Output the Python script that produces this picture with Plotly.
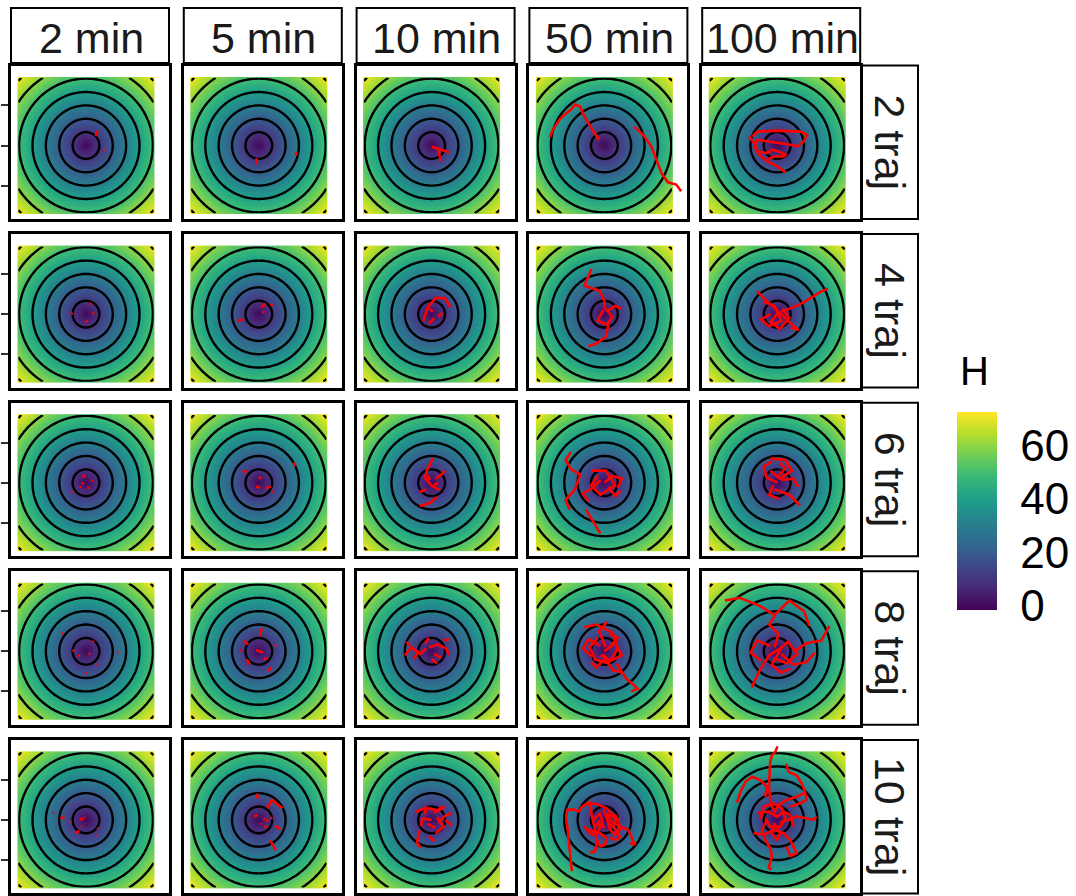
import numpy as np
import plotly.graph_objects as go

# ---------------- data ----------------
time_labels = ["2 min", "5 min", "10 min", "50 min", "100 min"]
traj_labels = ["2 traj", "4 traj", "6 traj", "8 traj", "10 traj"]

grid_x = np.arange(-5.0625, 5.07, 0.125)
grid_y = np.arange(-5.0625, 5.07, 0.125)
contour_start, contour_end, contour_step = 10, 70, 10
H_min, H_max = -1.5, 72.5
H_ticks = [0, 20, 40, 60]
y_ticks = [-3, 0, 3]

# trajectories per panel: list of trajectories, each a list of (x, y)
traj2_m2 = [[(0.72, 0.71), (0.87, 1.08)], [(1.36, -0.28), (1.42, -0.40)]]
traj2_m5 = [[(-0.17, -0.95), (-0.17, -1.40)], [(2.76, -0.50), (2.83, -0.76)]]
traj2_m10 = [[(0.0, -0.1), (0.6, -0.3), (1.3, -0.5)], [(0.5, -0.3), (0.6, -0.9), (0.7, -1.2)]]
traj2_m50 = [[(-4.08, 0.62), (-3.79, 1.29), (-3.29, 2.03), (-2.55, 2.65), (-2.18, 3.07), (-1.81, 2.90),
              (-1.56, 2.28), (-1.19, 1.66), (-0.82, 1.04), (-0.37, 0.42)],
             [(2.23, 1.41), (2.90, 0.79), (3.51, -0.07), (3.89, -1.06), (4.26, -2.05), (4.75, -2.75),
              (5.37, -2.92), (5.74, -3.42)]]
traj2_m100 = [[(-1.86, 0.67), (-1.49, 1.04), (0.0, 1.11), (1.73, 1.04), (2.23, 0.79), (1.98, 0.30),
               (1.49, -0.07), (0.99, 0.05), (0.25, 0.17), (-0.74, 0.30), (-1.49, 0.42), (-1.73, -0.07),
               (-1.49, -0.45), (-0.74, -0.57), (-0.37, -0.32), (0.12, -0.45), (0.62, -0.69), (0.50, -0.82),
               (-0.25, -0.82), (-0.74, -1.06)],
              [(-2.10, 0.67), (-1.73, 0.17), (-1.36, -0.69), (-0.74, -1.19), (0.0, -1.56), (0.62, -2.0)]]

traj4_m2 = [[(-1.0, 0.1), (-1.1, 0.0)], [(0.3, 0.7), (0.35, 0.85)], [(0.5, 0.0), (0.6, 0.1)],
            [(0.0, -0.5), (0.1, -0.6)]]
traj4_m5 = [[(-1.6, -0.5), (-1.2, -0.4)], [(0.2, 0.5), (0.5, 0.8)], [(0.3, 0.2), (0.4, 0.1)],
            [(0.9, 0.6), (1.0, 0.75)]]
traj4_m10 = [[(-0.6, -0.5), (-0.3, 0.5), (0.3, 1.2), (1.0, 1.2), (1.4, 0.5)], [(-0.2, -0.7), (0.2, -0.3)],
             [(0.5, -0.2), (0.8, 0.1)], [(0.1, 0.2), (-0.2, 0.4)]]
traj4_m50 = [[(-0.97, 3.38), (-1.49, 2.12), (-0.37, 1.75), (0.0, 1.0), (0.0, 0.5)],
             [(0.0, 0.5), (0.6, -0.2), (0.2, -0.8), (-0.5, -0.5), (-0.1, 0.3)],
             [(0.3, -0.8), (0.1, -1.7), (-0.6, -2.2), (-1.2, -2.4)],
             [(0.2, 0.2), (0.8, 0.6), (1.3, 0.4)]]
traj4_m100 = [[(-1.5, 1.7), (-0.8, 1.0), (0.0, 0.3), (0.8, -0.5), (1.6, -1.2), (1.0, -1.0)],
              [(0.3, 0.2), (1.2, 0.5), (2.0, 0.9), (2.8, 1.4), (3.3, 1.7), (3.8, 1.9)],
              [(-0.5, 0.0), (-1.2, -0.4), (-0.6, -0.9), (0.3, -0.5), (-0.2, 0.6), (-1.0, 0.9)],
              [(0.4, 0.4), (0.9, -0.3), (0.2, -1.1), (-0.5, -0.6), (0.0, 0.0)]]

traj6_m2 = [[(-0.2, 0.4), (-0.15, 0.6)], [(-0.5, -0.3), (-0.35, -0.35)], [(0.1, -0.4), (0.25, -0.35)],
            [(-1.1, -0.7), (-1.0, -0.75)], [(0.4, 0.1), (0.5, 0.2)], [(-0.3, -0.1), (-0.2, 0.0)]]
traj6_m5 = [[(-1.2, 0.9), (-0.9, 0.8)], [(-0.2, -0.3), (0.1, -0.35)], [(0.5, -0.4), (0.9, -0.3)],
            [(1.0, -0.6), (1.1, -0.7)], [(2.6, 1.5), (2.7, 1.2)], [(0.0, 0.3), (0.2, 0.4)]]
traj6_m10 = [[(0.1, 1.85), (-0.34, 0.95), (-0.49, 0.35), (0.03, -0.25), (0.63, -0.55)],
             [(-0.87, -1.74), (-0.12, -1.52), (0.4, -1.07)],
             [(0.3, 0.3), (0.7, 0.6), (1.0, 0.9)], [(-0.4, -0.5), (-0.9, -0.7)],
             [(0.2, -0.2), (0.5, 0.0)], [(-0.1, 0.2), (-0.3, 0.5)]]
traj6_m50 = [[(-2.5, 2.3), (-2.9, 1.7), (-2.5, 1.0), (-1.8, 0.6), (-2.2, -0.5), (-2.9, -1.3), (-2.6, -2.0)],
             [(-1.0, 0.9), (0.1, 0.9), (0.8, -0.2), (-0.3, -0.9), (-1.0, -0.2), (-0.5, 0.5)],
             [(-1.4, -2.0), (-0.7, -3.1), (-0.3, -3.8)],
             [(0.0, 0.0), (0.6, 0.5), (1.3, 0.3), (1.0, -0.4)],
             [(-0.3, 0.2), (-0.9, -0.4), (-1.6, -0.8), (-1.2, -1.4)],
             [(0.3, -0.3), (0.8, -1.0), (1.2, -0.6)]]
traj6_m100 = [[(-0.5, 1.8), (0.6, 1.7), (1.1, 0.9), (0.2, 0.3), (-0.5, 0.9)],
              [(-0.2, -0.5), (0.9, -0.9), (1.7, -1.7)],
              [(0.0, 0.0), (-0.8, 0.4), (-1.0, 1.2), (-0.4, 1.6)],
              [(0.3, 0.2), (1.2, 0.3), (1.6, -0.3)],
              [(-0.3, -0.2), (-0.6, -0.9), (0.1, -1.2)],
              [(0.1, 0.5), (0.6, 1.1), (0.2, 1.5)]]

traj8_m2 = [[(-1.8, 1.4), (-1.75, 1.25)], [(-1.0, 0.1), (-0.88, 0.0)], [(-0.6, -0.3), (-0.47, -0.35)],
            [(0.2, -0.2), (0.33, -0.2)], [(0.5, 0.8), (0.55, 0.67)], [(2.3, -0.1), (2.43, -0.1)],
            [(0.0, -1.6), (0.05, -1.73)], [(0.8, -1.0), (0.92, -1.0)]]
traj8_m5 = [[(-1.1, 0.8), (-0.8, 0.5)], [(0.2, 1.7), (0.1, 1.1)], [(-0.9, -0.6), (-0.7, -1.0)],
            [(0.7, -1.5), (0.9, -1.2)], [(-0.2, 0.1), (0.3, -0.1)], [(-1.4, 0.0), (-1.3, 0.1)],
            [(1.2, 0.4), (1.3, 0.5)], [(0.4, -0.5), (0.6, -0.6)]]
traj8_m10 = [[(-2.0, -0.3), (-1.5, 0.3), (-0.9, -0.2), (-0.4, 0.2)],
             [(-0.2, 0.3), (0.5, 0.5), (1.1, 0.2), (1.3, -0.3)],
             [(-1.3, -0.6), (-1.0, 0.1)], [(0.2, -0.2), (0.7, -0.5)], [(-0.5, 0.6), (-0.2, 1.0)],
             [(0.9, 0.8), (1.3, 0.9)], [(-1.6, 0.4), (-1.9, 0.7)], [(0.0, -0.6), (0.4, -0.9)]]
traj8_m50 = [[(-1.5, 1.8), (-0.6, 2.0), (0.6, 1.4), (1.0, 0.2), (0.3, -0.9), (-0.7, -0.6), (-1.1, 0.3), (-0.5, 1.0)],
             [(0.9, -0.9), (1.6, -2.0), (2.5, -2.8), (2.0, -3.0)],
             [(0.0, 0.0), (0.8, 0.6), (1.3, -0.3), (0.5, -0.7), (-0.3, -0.3)],
             [(-0.3, 0.4), (-1.2, 0.9), (-1.6, 0.2), (-0.9, -0.4)],
             [(0.3, 0.2), (1.0, 1.0), (0.4, 1.3)],
             [(-0.1, -0.2), (0.6, -1.4), (1.4, -1.6)],
             [(0.2, -0.4), (-0.6, -1.2), (-1.0, -0.8)],
             [(0.1, 0.3), (-0.4, 1.5), (0.2, 2.2)]]
traj8_m100 = [[(-3.9, 3.8), (-2.8, 4.0), (-1.3, 3.4), (-0.2, 2.7), (0.9, 3.8), (2.0, 3.0), (2.4, 1.9)],
              [(3.9, 1.9), (3.3, 0.8), (2.2, 0.6), (1.3, 0.0)],
              [(-1.9, -2.7), (-1.3, -1.4), (-0.6, -0.3), (0.2, 0.2)],
              [(0.0, 0.0), (0.8, 0.7), (1.5, -0.2), (0.7, -0.9), (-0.3, -0.5)],
              [(-0.5, 0.4), (-1.5, 0.8), (-2.0, -0.1), (-1.2, -0.7)],
              [(0.3, -0.2), (1.2, -1.0), (2.2, -0.8), (2.8, -0.1)],
              [(-0.2, 0.3), (0.1, 1.3), (-0.6, 2.0), (-0.2, 2.6)],
              [(0.4, 0.4), (-0.4, -1.0), (0.3, -1.6), (1.0, -1.3)]]

traj10_m2 = [[(-2.48, 0.59), (-2.45, 0.52)], [(-1.11, 1.16), (-1.08, 1.09)], [(-1.91, 0.12), (-1.61, 0.20)],
             [(-1.16, -0.12), (-1.12, -0.20)], [(-0.50, 0.05), (-0.17, 0.07)], [(-0.12, 0.22), (-0.08, 0.15)],
             [(-0.79, -0.99), (-0.50, -0.82)], [(0.77, -1.11), (0.80, -1.18)], [(0.82, -0.62), (0.92, -0.66)],
             [(-0.35, -0.45), (-0.30, -0.52)]]
traj10_m5 = [[(-0.15, 1.98), (-0.07, 1.58)], [(0.64, 0.87), (0.97, 1.49), (1.78, 0.87)],
             [(-0.35, 0.25), (-0.10, 0.37)], [(0.15, -0.25), (0.20, -0.32)], [(0.59, 0.05), (0.67, -0.12)],
             [(0.89, 0.10), (1.01, 0.17)], [(0.42, -0.45), (0.59, -0.57)], [(1.21, -0.45), (1.63, -0.69)],
             [(0.84, -1.53), (1.29, -2.28)], [(0.35, 0.10), (0.45, 0.02)]]
traj10_m10 = [[(-1.2, 0.6), (-0.4, 0.9), (0.5, 0.7), (1.0, 1.0)], [(0.4, 0.2), (0.9, -0.5), (0.3, -1.0)],
              [(-0.9, -0.8), (-1.1, -1.7), (-0.8, -2.1)], [(0.0, 0.0), (-0.7, 0.1), (-0.8, -0.5)],
              [(0.2, 0.5), (0.8, 1.0)], [(-0.3, -0.3), (0.3, -0.6)], [(1.0, 0.0), (1.5, -0.4)],
              [(-0.5, 0.4), (-0.4, 1.0)], [(0.5, -0.2), (1.0, 0.3), (1.5, 0.5)], [(-0.2, -1.2), (0.2, -1.6)]]
traj10_m50 = [[(-2.43, -3.84), (-2.55, -2.72), (-2.67, -1.49), (-2.80, -0.50), (-2.85, 0.25), (-2.80, 0.74),
               (-2.30, 0.79), (-1.93, 0.62), (-1.68, 0.99), (-1.06, 1.36)],
              [(-1.06, 1.36), (-0.94, 0.25), (-0.69, -0.74), (-0.57, -1.73), (-0.69, -2.35), (-1.06, -2.48)],
              [(-0.07, 0.74), (0.22, 0.0), (0.42, -0.74), (0.79, -1.11), (1.16, -0.74), (1.04, 0.0),
               (0.79, 0.37), (0.30, 0.37)],
              [(0.17, 0.5), (0.54, -0.12), (1.16, -0.5), (1.78, -0.74), (2.28, -1.86), (1.91, -1.73)],
              [(-1.56, -0.5), (-1.19, -0.74), (-0.32, -0.99), (0.17, -1.36), (0.05, -1.86), (-0.32, -1.98),
               (-0.57, -1.49)],
              [(-0.32, 0.0), (-0.57, -0.37), (-0.07, -0.5), (-0.32, 0.5), (-0.82, 0.0)],
              [(0.30, -0.25), (0.67, -0.5), (1.16, -1.24), (0.92, -1.49), (0.42, -1.36)],
              [(-1.31, 1.11), (-0.69, 1.24), (0.17, 0.87), (0.67, 0.25)],
              [(-0.20, -0.25), (-0.45, -0.87), (-0.94, -1.11), (-1.31, -0.74)],
              [(0.05, 0.25), (0.54, 0.37), (0.92, 0.0), (0.67, -0.37)]]
traj10_m100 = [[(0.02, 5.5), (-0.15, 5.07), (-0.40, 4.83), (-0.52, 4.33), (-0.57, 3.47), (-0.62, 2.48),
                (-0.52, 1.49), (-0.40, 0.99), (-0.15, 0.62)],
               [(-3.0, 1.29), (-2.75, 2.1), (-2.38, 2.85), (-1.88, 3.22), (-1.26, 2.97), (-0.77, 2.48),
                (-0.89, 1.73)],
               [(0.67, 4.21), (0.84, 3.59), (1.46, 3.34), (1.83, 2.72), (2.08, 2.1), (2.2, 1.49), (1.71, 1.24),
                (0.97, 0.99)],
               [(-0.77, 0.0), (-1.14, -0.74), (-0.89, -1.49), (-0.52, -2.1), (-0.40, -2.72), (-0.64, -3.59),
                (-0.40, -3.71)],
               [(2.95, 0.25), (2.7, 0.0), (2.2, 0.12), (1.46, 0.25), (0.72, 0.0), (0.22, -0.25)],
               [(-1.76, -0.99), (-1.01, -1.11), (-0.27, -0.74), (0.47, -0.99), (0.97, -1.49), (1.34, -2.23),
                (1.46, -2.48), (0.97, -2.72), (0.72, -1.98)],
               [(-1.26, 0.0), (-1.01, 0.99), (-0.27, 1.24), (0.35, 0.87), (0.59, 0.12), (0.22, -0.5),
                (-0.52, -0.5), (-0.89, 0.12)],
               [(-0.27, 0.5), (0.10, 1.11), (0.72, 1.49), (1.46, 1.73), (1.96, 1.98)],
               [(-1.51, 0.5), (-0.64, 0.62), (-0.02, 0.25), (0.47, 0.62), (0.97, 0.37), (1.21, -0.5)],
               [(-0.15, -0.25), (-0.40, -0.99), (-0.02, -1.49), (0.22, -0.99), (-0.02, -0.5)]]

panel_trajs = [
    [traj2_m2, traj2_m5, traj2_m10, traj2_m50, traj2_m100],
    [traj4_m2, traj4_m5, traj4_m10, traj4_m50, traj4_m100],
    [traj6_m2, traj6_m5, traj6_m10, traj6_m50, traj6_m100],
    [traj8_m2, traj8_m5, traj8_m10, traj8_m50, traj8_m100],
    [traj10_m2, traj10_m5, traj10_m10, traj10_m50, traj10_m100],
]

# ---------------- layout geometry (pixels) ----------------
W, HGT = 1076, 896
px_per_unit = 13.37
col_left0, col_pitch, panel_w = 11, 172.8, 158
row_c0, row_pitch = 145.5, 168.6
panel_top_off, panel_bot_off = 80, 73.5
center_off_x = 75  # px from panel left to data zero
strip_top, strip_bot = 8, 63
rstrip_l, rstrip_r = 862, 918
FONT = "Liberation Sans, Arial, sans-serif"

xr = [-center_off_x / px_per_unit, (panel_w - center_off_x) / px_per_unit]
yr = [-panel_bot_off / px_per_unit, panel_top_off / px_per_unit]

GX, GY = np.meshgrid(grid_x, grid_y)
Hfield = 10 * np.sqrt(GX ** 2 + GY ** 2)

fig = go.Figure()
layout = dict(
    width=W, height=HGT, margin=dict(l=0, r=0, t=0, b=0),
    paper_bgcolor="white", plot_bgcolor="white", showlegend=False,
    font=dict(family=FONT, color="black"),
)
shapes, annotations = [], []


def fx(px):
    return px / W


def fy(py):
    return 1 - py / HGT


for r in range(5):
    cy = row_c0 + row_pitch * r
    for c in range(5):
        k = r * 5 + c + 1
        left = col_left0 + col_pitch * c
        xa = "x" if k == 1 else f"x{k}"
        ya = "y" if k == 1 else f"y{k}"
        fig.add_trace(go.Heatmap(x=grid_x, y=grid_y, z=Hfield, coloraxis="coloraxis",
                                 xaxis=xa, yaxis=ya, hoverinfo="skip"))
        fig.add_trace(go.Contour(x=grid_x, y=grid_y, z=Hfield, showscale=False,
                                 contours=dict(start=contour_start, end=contour_end, size=contour_step,
                                               coloring="none"),
                                 line=dict(color="black", width=2.4), xaxis=xa, yaxis=ya,
                                 hoverinfo="skip"))
        xs, ys = [], []
        for tr in panel_trajs[r][c]:
            xs += [p[0] for p in tr] + [None]
            ys += [p[1] for p in tr] + [None]
        fig.add_trace(go.Scatter(x=xs, y=ys, mode="lines", line=dict(color="red", width=2.6),
                                 xaxis=xa, yaxis=ya, hoverinfo="skip"))
        axn = "" if k == 1 else str(k)
        layout["xaxis" + axn] = dict(domain=[fx(left), fx(left + panel_w)], range=xr,
                                     showgrid=False, zeroline=False, showticklabels=False, ticks="",
                                     showline=True, mirror=True, linecolor="black", linewidth=2.5,
                                     anchor=ya)
        yax = dict(domain=[fy(cy + panel_bot_off), fy(cy - panel_top_off)], range=yr,
                   showgrid=False, zeroline=False, showticklabels=False,
                   showline=True, mirror=True, linecolor="black", linewidth=2.5, anchor=xa)
        if c == 0:
            yax.update(ticks="outside", tickvals=y_ticks, ticklen=7, tickwidth=2, tickcolor="#333333")
        else:
            yax.update(ticks="")
        layout["yaxis" + axn] = yax

# top strips
for c, lab in enumerate(time_labels):
    left = col_left0 + col_pitch * c
    shapes.append(dict(type="rect", xref="paper", yref="paper", x0=fx(left), x1=fx(left + panel_w),
                       y0=fy(strip_bot), y1=fy(strip_top), line=dict(color="black", width=2),
                       fillcolor="white", layer="below"))
    annotations.append(dict(text=lab, xref="paper", yref="paper", x=fx(left + panel_w / 2 + 1),
                            y=fy(38), showarrow=False, xanchor="center", yanchor="middle",
                            font=dict(size=43, color="#1a1a1a", family=FONT)))
# right strips
for r, lab in enumerate(traj_labels):
    cy = row_c0 + row_pitch * r
    shapes.append(dict(type="rect", xref="paper", yref="paper", x0=fx(rstrip_l), x1=fx(rstrip_r),
                       y0=fy(cy + panel_bot_off), y1=fy(cy - panel_top_off),
                       line=dict(color="black", width=2), fillcolor="white", layer="below"))
    annotations.append(dict(text=lab, xref="paper", yref="paper", x=fx(rstrip_r - 28), y=fy(cy - 3),
                            showarrow=False, textangle=90, xanchor="center", yanchor="middle",
                            font=dict(size=43, color="#1a1a1a", family=FONT)))

# colorbar
cb_left, cb_top, cb_bot, cb_thick = 957, 412, 610, 40
layout["coloraxis"] = dict(
    colorscale="Viridis", cmin=H_min, cmax=H_max,
    colorbar=dict(x=fx(cb_left), xanchor="left", xpad=0, ypad=0, thickness=cb_thick,
                  len=cb_bot - cb_top, lenmode="pixels", y=fy((cb_top + cb_bot) / 2), yanchor="middle",
                  outlinewidth=0, tickvals=H_ticks, ticks="outside", ticklen=15,
                  tickcolor="rgba(0,0,0,0)", tickfont=dict(size=44, color="black", family=FONT)),
)
for v in H_ticks:
    py = cb_bot - (v - H_min) / (H_max - H_min) * (cb_bot - cb_top)
    for x0, x1 in [(cb_left, cb_left + 6), (cb_left + cb_thick - 6, cb_left + cb_thick)]:
        shapes.append(dict(type="line", xref="paper", yref="paper", x0=fx(x0), x1=fx(x1),
                           y0=fy(py), y1=fy(py), line=dict(color="white", width=1)))
annotations.append(dict(text="H", xref="paper", yref="paper", x=fx(958), y=fy(371), showarrow=False,
                        xanchor="left", yanchor="middle", font=dict(size=40, color="black", family=FONT)))

layout["shapes"] = shapes
layout["annotations"] = annotations
fig.update_layout(**layout)
fig.write_html("out.html")
